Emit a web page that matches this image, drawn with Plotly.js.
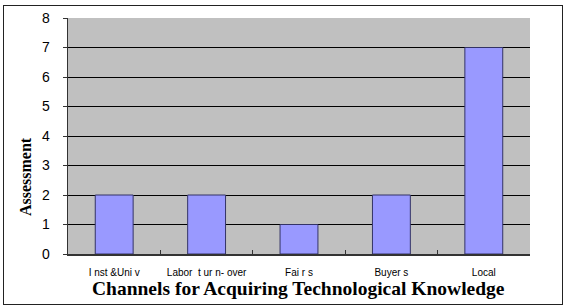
<!DOCTYPE html>
<html><head><meta charset="utf-8">
<script src="https://cdn.plot.ly/plotly-3.0.1.min.js"></script>
<style>html,body{margin:0;padding:0;background:#fff}#wrap{position:relative;width:569px;height:308px}
#frame{position:absolute;left:3px;top:5px;width:558px;height:298px;border:1.5px solid #222;pointer-events:none}</style>
</head><body><div id="wrap"><div id="chart" style="width:569px;height:308px"></div><div id="frame"></div></div>
<script>
const categories = ["I nst &Uni v", "Labor  t ur n- over", "Fai r s", "Buyer s", "Local"];
const values = [2, 2, 1, 2, 7];
const yTicks = [0, 1, 2, 3, 4, 5, 6, 7, 8];

Plotly.newPlot("chart", [{
  type: "bar", x: categories, y: values,
  marker: {color: "#9999ff", line: {color: "#333366", width: 1}},
  hoverinfo: "none"
}], {
  width: 569, height: 308,
  margin: {l: 68, r: 39, t: 18, b: 54},
  paper_bgcolor: "#ffffff", plot_bgcolor: "#c0c0c0",
  bargap: 0.59, showlegend: false,
  xaxis: {type: "category", tickson: "boundaries", ticks: "inside", ticklen: 4, tickcolor: "#333",
    showgrid: false, showline: true, linecolor: "#333", linewidth: 1.5, ticklabelstandoff: 8,
    tickfont: {family: "Liberation Sans, Arial", size: 10, color: "#000"}},
  yaxis: {range: [0, 8], tickvals: yTicks, ticks: "outside", ticklen: 4, tickcolor: "#333",
    showgrid: true, gridcolor: "#000", gridwidth: 1, zeroline: false, ticklabelstandoff: 10,
    showline: true, linecolor: "#333", linewidth: 1.5,
    tickfont: {family: "Liberation Sans, Arial", size: 14, color: "#000"}},
  annotations: [
    {text: "<b>Channels for Acquiring Technological Knowledge</b>", xref: "paper", yref: "paper",
     x: 0.498, y: -0.147, xanchor: "center", yanchor: "middle", showarrow: false,
     font: {family: "Liberation Serif, Times New Roman", size: 19.5, color: "#000"}},
    {text: "<b>Assessment</b>", xref: "paper", yref: "paper", textangle: -90,
     x: -0.093, y: 0.326, xanchor: "center", yanchor: "middle", showarrow: false,
     font: {family: "Liberation Serif, Times New Roman", size: 16, color: "#000"}}
  ]
}, {staticPlot: true});
</script></body></html>
